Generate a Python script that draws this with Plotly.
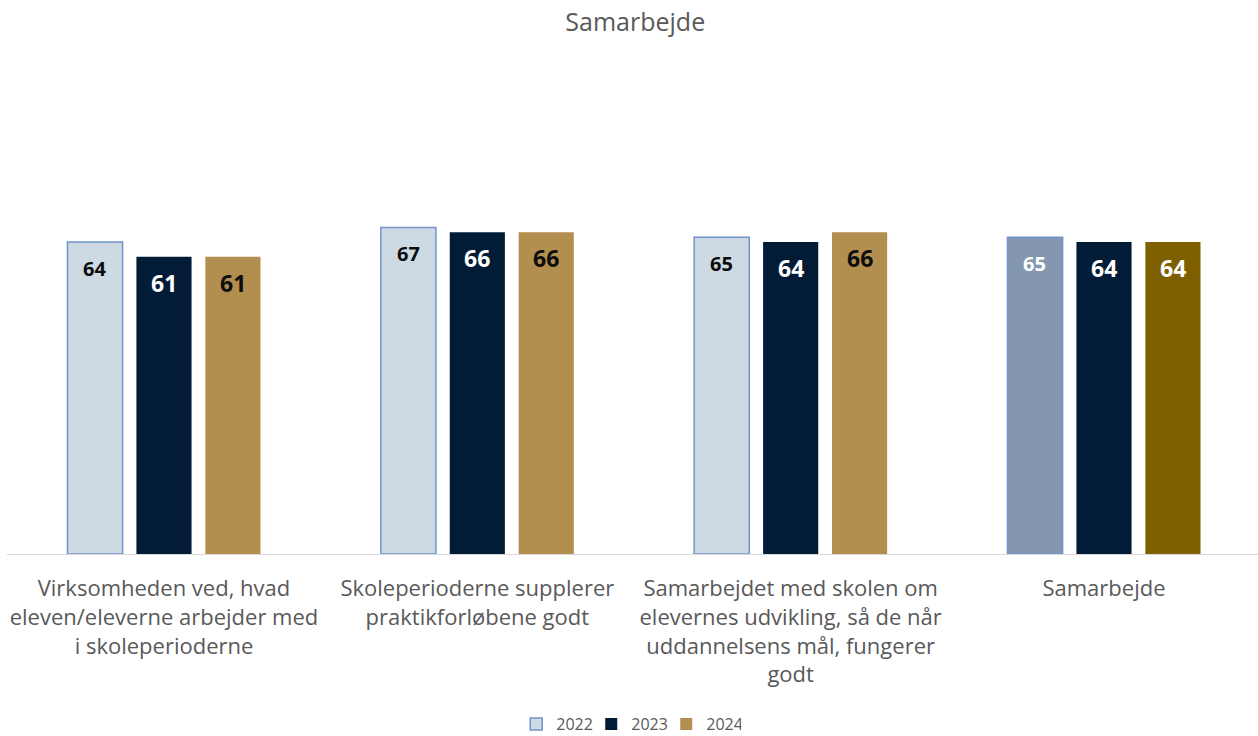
import plotly.graph_objects as go

# Survey scores on collaboration, three years per statement
categories = [
    "Virksomheden ved, hvad<br>eleven/eleverne arbejder med<br>i skoleperioderne",
    "Skoleperioderne supplerer<br>praktikforløbene godt",
    "Samarbejdet med skolen om<br>elevernes udvikling, så de når<br>uddannelsens mål, fungerer<br>godt",
    "Samarbejde",
]
years = ["2022", "2023", "2024"]
values_2022 = [64, 67, 65, 65]
values_2023 = [61, 66, 64, 64]
values_2024 = [61, 66, 66, 64]

# Fill colours per bar (the summary category is shaded darker)
fill_2022 = ["#CDD9E3", "#CDD9E3", "#CDD9E3", "#8497B0"]
fill_2023 = ["#021C37", "#021C37", "#021C37", "#021C37"]
fill_2024 = ["#B38F4F", "#B38F4F", "#B38F4F", "#7F6000"]
label_color_2022 = ["#0D0D0D", "#0D0D0D", "#0D0D0D", "#FFFFFF"]
label_color_2023 = ["#FFFFFF", "#FFFFFF", "#FFFFFF", "#FFFFFF"]
label_color_2024 = ["#0D0D0D", "#0D0D0D", "#0D0D0D", "#FFFFFF"]

FONT = "Open Sans"
series = [
    (years[0], values_2022, fill_2022, label_color_2022, dict(color="#7293CB", width=1.5), 20),
    (years[1], values_2023, fill_2023, label_color_2023, dict(width=0), 23),
    (years[2], values_2024, fill_2024, label_color_2024, dict(width=0), 23),
]

fig = go.Figure()
slot_px = 69  # horizontal distance between neighbouring bars in a group
annotations = []
for idx, (name, vals, fills, lab_cols, line, lab_size) in enumerate(series):
    fig.add_trace(go.Bar(
        name=name, x=categories, y=vals,
        marker=dict(color=fills, line=line),
        hoverinfo="x+y+name",
    ))
    for cat, v, col in zip(categories, vals, lab_cols):
        annotations.append(dict(
            x=cat, y=v, xref="x", yref="y",
            text=f"<b>{v}</b>", showarrow=False,
            xshift=(idx - 1) * slot_px, yshift=-26,
            yanchor="middle", xanchor="center",
            font=dict(family=FONT, size=lab_size, color=col),
        ))

fig.update_layout(
    width=1258, height=736,
    margin=dict(l=7, r=0, t=164, b=182),
    paper_bgcolor="white", plot_bgcolor="white",
    barmode="group", bargap=0.34, bargroupgap=0.2,
    title=dict(text="Samarbejde", x=0.505, xanchor="center",
               y=1 - 22 / 736, yanchor="middle", yref="container",
               font=dict(family=FONT, size=25, color="#595959")),
    font=dict(family=FONT, color="#595959"),
    xaxis=dict(showline=True, linecolor="#D9D9D9", linewidth=1,
               range=[-0.501, 3.4915],
               showgrid=False, ticks="", ticklabelstandoff=15,
               tickfont=dict(family=FONT, size=22, color="#595959")),
    yaxis=dict(range=[0, 80], visible=False, showgrid=False, zeroline=False),
    legend=dict(orientation="h", x=0.497, xanchor="center",
                y=1 - 724 / 736, yanchor="middle", yref="container",
                font=dict(family=FONT, size=16, color="#595959"),
                entrywidth=30, traceorder="normal"),
    annotations=annotations,
    showlegend=True,
)

fig.write_html("out.html")
